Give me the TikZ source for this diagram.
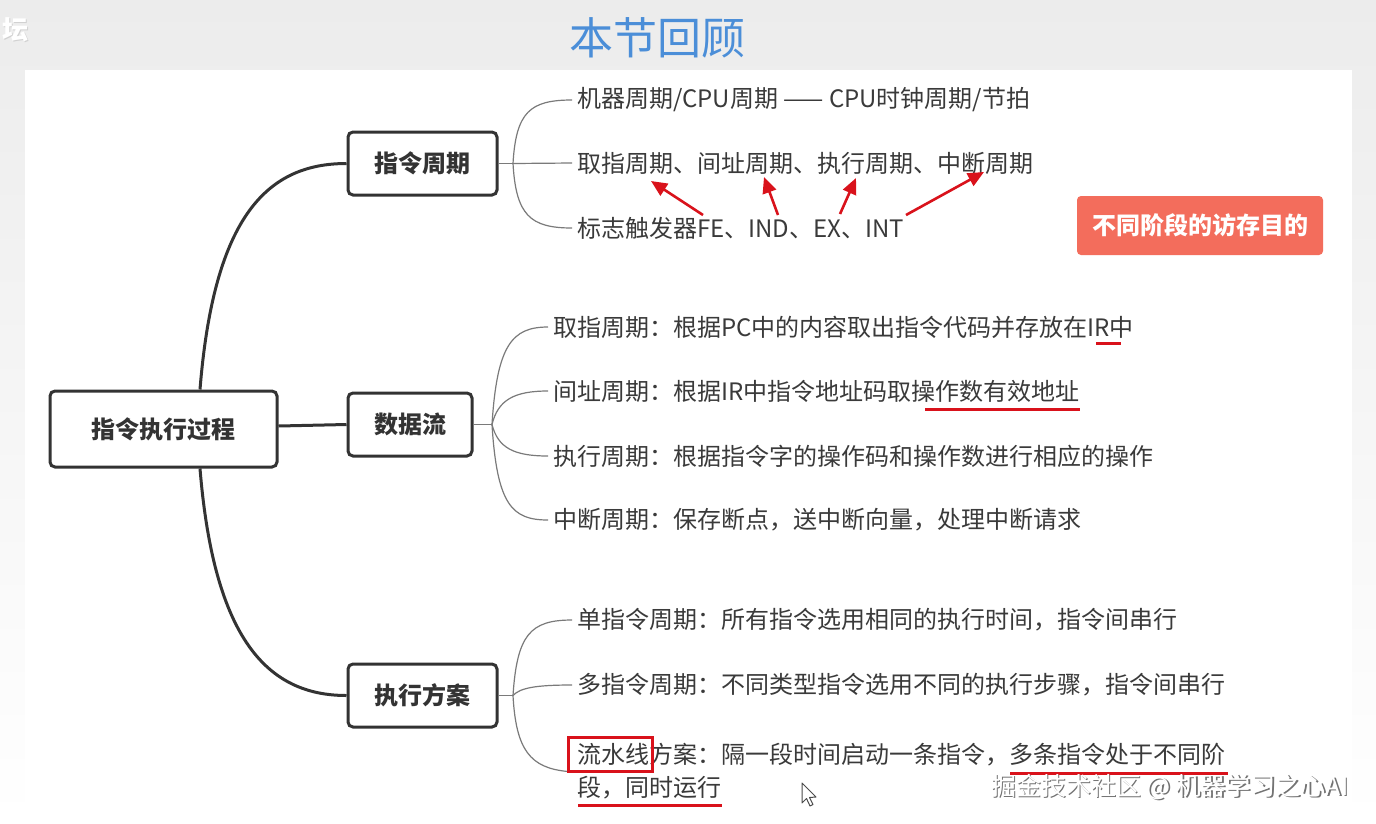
\documentclass[tikz,border=0pt]{standalone}
\usepackage{fontspec}
\setmainfont{Noto Sans CJK SC}
\usetikzlibrary{arrows.meta}
\definecolor{ink}{HTML}{333333}
\definecolor{txt}{HTML}{3A3A3A}
\definecolor{thin}{HTML}{7A7A7A}
\definecolor{mark}{HTML}{D9121B}
\definecolor{salmon}{HTML}{F36D5C}
\definecolor{titleblue}{HTML}{4B8ED8}
\definecolor{bggray}{HTML}{ECECEC}
\begin{document}
\begin{tikzpicture}[x=1pt,y=-1pt,
  mainbox/.style={draw=ink, line width=3pt, rounded corners=5pt, fill=white,
    text=ink, font=\fontsize{24}{28}\selectfont\bfseries, inner sep=0pt},
  leaf/.style={anchor=west, inner sep=0pt, text=txt, font=\fontsize{24}{33}\selectfont},
  thick link/.style={draw=ink, line width=3pt},
  thin link/.style={draw=thin, line width=1.2pt},
  redarrow/.style={draw=mark, line width=2.6pt, -{Triangle[length=16pt,width=14pt,fill=mark]}},
  redline/.style={draw=mark, line width=3pt}
]
\useasboundingbox (0,0) rectangle (1376,823);
% background
\shade[top color=bggray, bottom color=white] (0,0) rectangle (1376,823);
\fill[white] (25,70) rectangle (1352,823);

% watermark top-left
\node[text=black!18, font=\fontsize{26}{30}\selectfont\bfseries] (wm0s) at (16,31) {坛};
\node[text=white, font=\fontsize{26}{30}\selectfont\bfseries] (wm0) at (15,30) {坛};

% title
\node[text=titleblue, font=\fontsize{44}{50}\selectfont] (title) at (657,38) {本节回顾};

% main nodes
\node[mainbox, minimum width=227pt, minimum height=76pt] (root) at (163.5,429) {指令执行过程};
\node[mainbox, minimum width=149pt, minimum height=63pt] (zl) at (422.5,163.5) {指令周期};
\node[mainbox, minimum width=124pt, minimum height=63pt] (sj) at (410,424.5) {数据流};
\node[mainbox, minimum width=149pt, minimum height=63pt] (fa) at (422.5,695.5) {执行方案};

% thick links
\draw[thick link] (root.north -| 200,0) .. controls (214,215) and (268,163.5) .. (zl.west);
\draw[thick link] (root.south -| 200,0) .. controls (214,640) and (268,695.5) .. (fa.west);
\draw[thick link] (root.east |- 0,426) -- (sj.west);

% leaves of 指令周期
\node[leaf] (c1) at (577,100) {机器周期/CPU周期 —— CPU时钟周期/节拍};
\node[leaf] (c2) at (577,163) {取指周期、间址周期、执行周期、中断周期};
\node[leaf] (c3) at (577,228) {标志触发器FE、IND、EX、INT};
\coordinate (j1) at (513,163.5);
\draw[thin link] (zl.east) -- (j1);
\draw[thin link] (j1) .. controls (516,112) and (530,100) .. ([xshift=-5pt]c1.west);
\draw[thin link] (j1) -- ([xshift=-5pt]c2.west);
\draw[thin link] (j1) .. controls (516,215) and (530,228) .. ([xshift=-5pt]c3.west);

% leaves of 数据流
\node[leaf] (d1) at (553,327) {取指周期：根据PC中的内容取出指令代码并存放在IR中};
\node[leaf] (d2) at (553,391) {间址周期：根据IR中指令地址码取操作数有效地址};
\node[leaf] (d3) at (553,456) {执行周期：根据指令字的操作码和操作数进行相应的操作};
\node[leaf] (d4) at (553,520) {中断周期：保存断点，送中断向量，处理中断请求};
\coordinate (j2) at (492,424.5);
\draw[thin link] (sj.east) -- (j2);
\draw[thin link] (j2) .. controls (497,345) and (512,327) .. ([xshift=-5pt]d1.west);
\draw[thin link] (j2) .. controls (498,400) and (514,391) .. ([xshift=-5pt]d2.west);
\draw[thin link] (j2) .. controls (498,448) and (514,456) .. ([xshift=-5pt]d3.west);
\draw[thin link] (j2) .. controls (497,505) and (512,520) .. ([xshift=-5pt]d4.west);

% leaves of 执行方案
\node[leaf] (e1) at (577,620) {单指令周期：所有指令选用相同的执行时间，指令间串行};
\node[leaf] (e2) at (577,685) {多指令周期：不同类型指令选用不同的执行步骤，指令间串行};
\node[leaf, align=left] (e3) at (577,771.5) {流水线方案：隔一段时间启动一条指令，多条指令处于不同阶\\段，同时运行};
\coordinate (j3) at (513,695.5);
\draw[thin link] (fa.east) -- (j3);
\draw[thin link] (j3) .. controls (517,635) and (530,620) .. ([xshift=-5pt]e1.west);
\draw[thin link] (j3) .. controls (520,688) and (535,685) .. ([xshift=-5pt]e2.west);
\draw[thin link] (j3) .. controls (516,750) and (530,768) .. ([xshift=-9pt]e3.west);

% annotation box
\node[fill=salmon, rounded corners=4pt, minimum width=246pt, minimum height=59pt,
  text=white, font=\fontsize{24}{28}\selectfont\bfseries] (note) at (1200,225.5) {不同阶段的访存目的};

% red arrows
\coordinate (t1) at (703,215); \coordinate (h1) at (651,181);
\coordinate (t2) at (778,215); \coordinate (h2) at (764,177);
\coordinate (t3) at (840,214); \coordinate (h3) at (856,178);
\coordinate (t4) at (906,215); \coordinate (h4) at (984,172);
\draw[redarrow] (t1) -- (h1);
\draw[redarrow] (t2) -- (h2);
\draw[redarrow] (t3) -- (h3);
\draw[redarrow] (t4) -- (h4);

% red underlines and box
\draw[redline] (1096,343) -- (1121,343);
\draw[redline] (925,409) -- (1080,409);
\draw[redline] (1010,773) -- (1228,773);
\draw[redline] (578,805) -- (722,805);
\draw[redline] (568,737) rectangle (652,771);

% cursor
\draw[fill=white, draw=black!70, line width=1pt, line join=round]
  (802,783) -- (802,803) -- (806.5,798.5) -- (810,806) -- (813,804.5) -- (809.5,797.5) -- (816,797) -- cycle;

% bottom-right watermark
\node[anchor=east, text=black!55, font=\fontsize{25}{28}\selectfont] (wm1s) at (1353.5,788.5) {掘金技术社区 @ 机器学习之心AI};
\node[anchor=east, text=white, font=\fontsize{25}{28}\selectfont] (wm1) at (1352,787) {掘金技术社区 @ 机器学习之心AI};
\end{tikzpicture}
\end{document}
